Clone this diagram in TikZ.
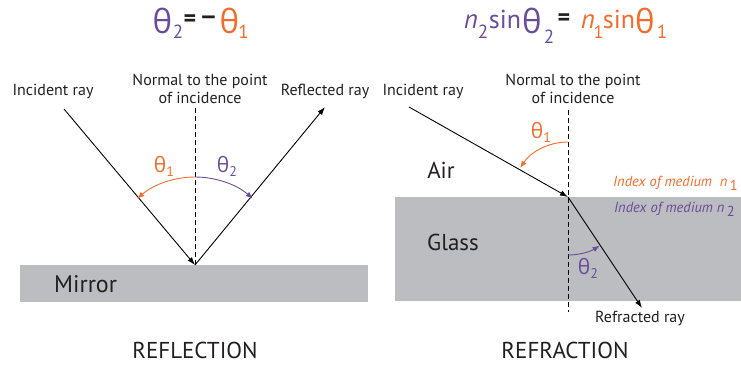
\documentclass[tikz,border=0pt]{standalone}
\usepackage{fontspec}
\setmainfont{PT Sans}
\newfontfamily\gr{Open Sans}
\usetikzlibrary{arrows.meta,calc}
\definecolor{orng}{HTML}{F26C2B}
\definecolor{purp}{HTML}{6A4C9C}
\definecolor{glassgray}{HTML}{BCBDC0}
\definecolor{txt}{HTML}{231F20}
\newcommand\thg{{\gr θ}}
\newcommand\fs[1]{\fontsize{#1}{#1}\selectfont}
\begin{document}
\begin{tikzpicture}[x=1pt,y=-1pt,
  lbl/.style={text=txt,inner sep=0pt,font=\fontsize{16}{18}\selectfont},
  big/.style={text=txt,inner sep=0pt,font=\fs{23}},
  captext/.style={text=txt,inner sep=0pt,font=\fs{23}},
  ttl/.style={inner sep=0pt,anchor=base},
  ops/.style={inner sep=0pt,anchor=center,text=txt},
  ray/.style={line width=0.9pt,-{Latex[length=8pt,width=5.5pt]}},
  normal/.style={line width=0.8pt,dash pattern=on 5pt off 3pt},
  arcor/.style={orng,line width=0.9pt,-{Latex[length=7pt,width=5.5pt]}},
  arcpu/.style={purp,line width=0.9pt,-{Latex[length=7pt,width=5.5pt]}},
  med/.style={fill=glassgray,draw=none}]
\useasboundingbox (0,0) rectangle (741,365);

% ---------- title left ----------
\node[ttl,text=purp] (a1) at (162.5,33) {\fs{33}\thg};
\node[ttl,text=purp] (a2) at (178,38) {\fs{19}2};
\node[ops] (a3) at (190,20.5) {\fs{24}\textbf{=}};
\node[ops] (a4) at (208.5,21) {\gr\fs{26}\textbf{−}};
\node[ttl,text=orng] (a5) at (229.5,33) {\fs{33}\thg};
\node[ttl,text=orng] (a6) at (243.5,38) {\fs{19}1};

% ---------- title right ----------
\node[ttl,text=purp] (b1) at (471,28) {\fs{27}\itshape n};
\node[ttl,text=purp] (b2) at (483,38) {\fs{19}2};
\node[ttl,text=purp] (b3) at (505,28) {\fs{26}sin};
\node[ttl,text=purp] (b4) at (532,33) {\fs{33}\thg};
\node[ttl,text=purp] (b5) at (549,43) {\fs{19}2};
\node[ops] (b6) at (564,20) {\fs{24}\textbf{=}};
\node[ttl,text=orng] (b7) at (588,28) {\fs{27}\itshape n};
\node[ttl,text=orng] (b8) at (598.5,38) {\fs{18}1};
\node[ttl,text=orng] (b9) at (619,28) {\fs{26}sin};
\node[ttl,text=orng] (b10) at (645,33) {\fs{33}\thg};
\node[ttl,text=orng] (b11) at (662,38) {\fs{19}1};

% ---------- reflection ----------
\fill[med] (20,265) rectangle (368,302);
\node[big,anchor=west] (mirror) at (54,284) {\fs{24}Mirror};
\coordinate (P1) at (195,265);
\coordinate (N1) at (195,108);
\coordinate (I1) at (64,109);
\coordinate (R1) at (325,107);
\draw[normal] (N1) -- (P1);
\draw[ray] (I1) -- (P1);
\draw[ray] (P1) -- (R1);
\draw[arcor] ($(P1)+(0,-88)$) arc[start angle=270,end angle=229,radius=88];
\draw[arcpu] ($(P1)+(0,-88)$) arc[start angle=270,end angle=311,radius=88];
\node[inner sep=0pt,text=orng] (th1a) at (164,166) {\fs{21}\thg\raisebox{-4pt}{\fs{14}1}};
\node[inner sep=0pt,text=purp] (th2a) at (227,166) {\fs{21}\thg\raisebox{-4pt}{\fs{14}2}};
\node[lbl] (inc1) at (53,91) {Incident ray};
\node[lbl,align=center] (nor1) at (200,89) {Normal to the point\\of incidence};
\node[lbl] (ref1) at (325,91) {Reflected ray};
\node[captext] (reflection) at (195,350) {REFLECTION};

% ---------- refraction ----------
\fill[med] (395,197) rectangle (741,301);
\coordinate (P2) at (568,197);
\coordinate (N2a) at (568,110);
\coordinate (N2b) at (568,312);
\coordinate (I2) at (409,107);
\coordinate (R2) at (642,308);
\draw[normal] (N2a) -- (N2b);
\draw[ray] (I2) -- (P2);
\draw[ray] (P2) -- (R2);
\draw[arcor] ($(P2)+(0,-55)$) arc[start angle=270,end angle=213,radius=57];
\draw[arcpu] ($(P2)+(0,58)$) arc[start angle=90,end angle=57,radius=58];
\node[inner sep=0pt,text=orng] (th1b) at (541,132) {\fs{21}\thg\raisebox{-4pt}{\fs{14}1}};
\node[inner sep=0pt,text=purp] (th2b) at (588,268) {\fs{21}\thg\raisebox{-4pt}{\fs{14}2}};
\node[big] (air) at (441,170) {Air};
\node[big] (glass) at (453,242) {Glass};
\node[inner sep=0pt,anchor=west,text=orng] (n1) at (613,183) {\fs{14.5}\textit{Index of medium\ \ n}\raisebox{-4pt}{\,1}};
\node[inner sep=0pt,anchor=west,text=purp] (n2) at (614,209) {\fs{14.5}\textit{Index of medium n}\raisebox{-4pt}{\,2}};
\node[lbl] (inc2) at (423,91) {Incident ray};
\node[lbl,align=center] (nor2) at (573,89) {Normal to the point\\of incidence};
\node[lbl] (refr) at (640,318) {Refracted ray};
\node[captext] (refraction) at (565,350) {REFRACTION};
\end{tikzpicture}
\end{document}
